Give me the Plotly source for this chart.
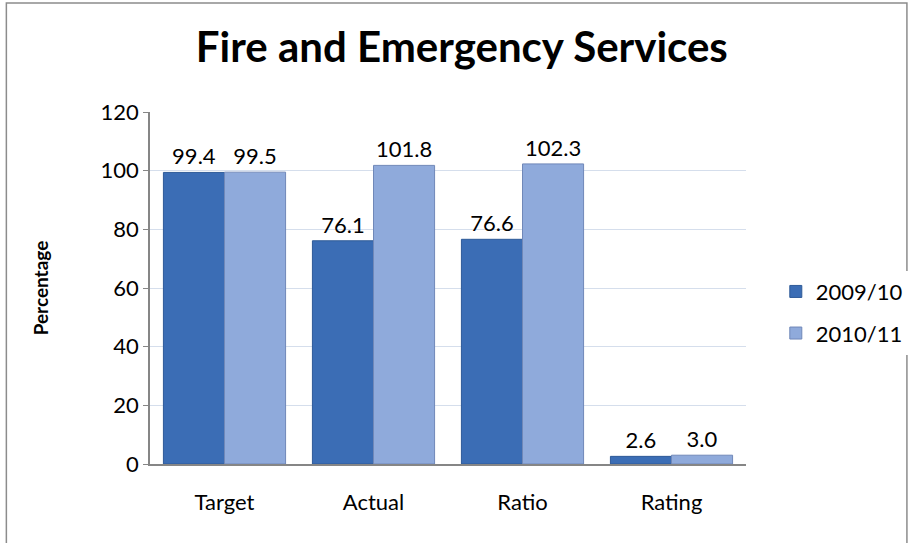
import plotly.graph_objects as go

categories = ["Target", "Actual", "Ratio", "Rating"]
series_names = ["2009/10", "2010/11"]
values_0910 = [99.4, 76.1, 76.6, 2.6]
values_1011 = [99.5, 101.8, 102.3, 3.0]

dark_blue = "#3b6db5"
light_blue = "#8faadb"
font_family = "Lato, 'Open Sans', sans-serif"

fig = go.Figure()
for name, vals, col, edge in [(series_names[0], values_0910, dark_blue, "#2e5a98"),
                              (series_names[1], values_1011, light_blue, "#7088b8")]:
    fig.add_trace(go.Bar(
        x=categories, y=vals, name=name, legendgroup=name,
        marker=dict(color=col, line=dict(color=edge, width=1)),
        text=[f"{v:.1f}" for v in vals], textposition="outside",
        textfont=dict(size=22, color="black", family=font_family),
        cliponaxis=False,
    ))

fig.update_layout(
    width=920, height=543,
    margin=dict(l=150, r=165, t=112, b=79),
    paper_bgcolor="white", plot_bgcolor="white",
    barmode="group", bargap=0.18, bargroupgap=0,
    font=dict(family=font_family, size=22, color="black"),
    title=dict(text="<b>Fire and Emergency Services</b>", x=0.502, xanchor="center",
               y=0.913, yanchor="middle", font=dict(size=42, color="black")),
    legend=dict(x=1.05, y=0.43, xanchor="left", yanchor="middle",
                font=dict(size=22), itemwidth=30, tracegroupgap=10),
    showlegend=True,
)
fig.update_yaxes(
    range=[0, 120], dtick=20, showgrid=True, gridcolor="#d5deec", gridwidth=1,
    showline=True, linecolor="#868686", linewidth=1.5,
    ticks="outside", ticklen=5, tickcolor="#868686",
    title=dict(text="<b>Percentage</b>", font=dict(size=19), standoff=47),
    zeroline=False,
)
fig.update_xaxes(
    showline=True, linecolor="#868686", linewidth=1.5,
    ticks="", tickfont=dict(size=22), ticklabelstandoff=18,
)
# chart frame
fig.add_shape(type="rect", xref="paper", yref="paper",
              x0=-0.241, x1=1.27, y0=-0.25, y1=1.31,
              line=dict(color="#8c8c8c", width=1.5), fillcolor="rgba(0,0,0,0)", layer="below")

fig.write_html("out.html", config={"displayModeBar": False},
               post_script="document.body.style.margin='0px';")
